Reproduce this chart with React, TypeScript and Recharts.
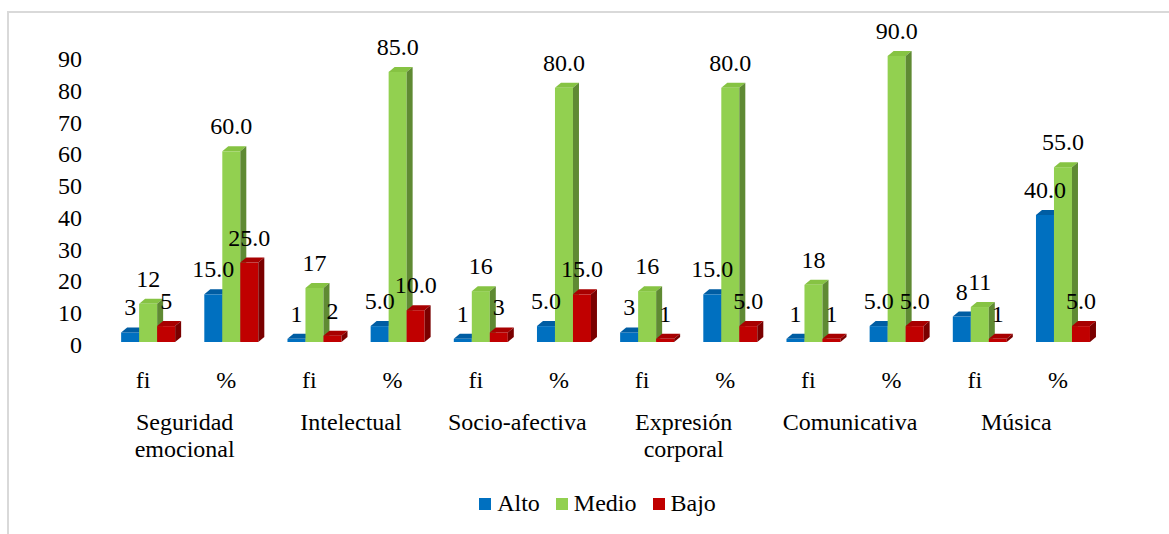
import React from 'react';
import { BarChart, Bar, XAxis, YAxis, Legend } from 'recharts';

const kinds = ['fi', '%', 'fi', '%', 'fi', '%', 'fi', '%', 'fi', '%', 'fi', '%'];
const groups = ['Seguridad emocional', 'Intelectual', 'Socio-afectiva', 'Expresión corporal', 'Comunicativa', 'Música'];
const alto = [3, 15, 1, 5, 1, 5, 3, 15, 1, 5, 8, 40];
const medio = [12, 60, 17, 85, 16, 80, 16, 80, 18, 90, 11, 55];
const bajo = [5, 25, 2, 10, 3, 15, 1, 5, 1, 5, 1, 5];
const yTicks = [0, 10, 20, 30, 40, 50, 60, 70, 80, 90];

const seriesInfo = [
  { key: 'alto', name: 'Alto', front: '#0070C0', top: '#005DA3', side: '#004F8C' },
  { key: 'medio', name: 'Medio', front: '#92D050', top: '#86C343', side: '#5F8A33' },
  { key: 'bajo', name: 'Bajo', front: '#C00000', top: '#A80000', side: '#7A0000' },
];

const data = kinds.map((k, i) => ({
  id: String(i),
  kind: k,
  group: groups[Math.floor(i / 2)],
  alto: alto[i],
  medio: medio[i],
  bajo: bajo[i],
}));

const FONT = "'Liberation Serif', Tinos, 'Times New Roman', 'DejaVu Serif', 'Noto Serif', serif";
const FS = 24;
const DX = 6;
const DY = 5;
const LABEL_SHIFT = -5.5;

const make3D = (front: string, top: string, side: string) => (props: any) => {
  const { x, y, width, height } = props;
  if (x == null || y == null || !width) return <g />;
  const w = width;
  const h = Math.max(height, 0);
  return (
    <g>
      <rect x={x} y={y} width={w} height={h} fill={front} />
      <polygon
        points={`${x},${y} ${x + DX},${y - DY} ${x + w + DX},${y - DY} ${x + w},${y}`}
        fill={top}
      />
      <polygon
        points={`${x + w},${y} ${x + w + DX},${y - DY} ${x + w + DX},${y + h - DY} ${x + w},${y + h}`}
        fill={side}
      />
    </g>
  );
};

const makeLabel = (key: string) => (props: any) => {
  const { x, y, width, payload } = props;
  if (x == null || y == null || !payload) return <g />;
  const v = payload[key];
  const txt = payload.kind === '%' ? Number(v).toFixed(1) : String(v);
  return (
    <text
      x={x + width / 2}
      y={y - 17}
      textAnchor="middle"
      style={{ fontFamily: FONT, fontSize: FS }}
      fill="#000"
    >
      {txt}
    </text>
  );
};

const YTick = (props: any) => {
  const { x, y, payload } = props;
  return (
    <text x={x} y={y + 11} textAnchor="end" style={{ fontFamily: FONT, fontSize: FS }} fill="#000">
      {payload.value}
    </text>
  );
};

const XTick = (props: any) => {
  const { x, y, index, width, visibleTicksCount } = props;
  const band = width / (visibleTicksCount || 12);
  const d = data[index];
  if (!d) return <g />;
  const gx = x + band / 2 + LABEL_SHIFT;
  return (
    <g>
      <text x={x + LABEL_SHIFT} y={y + 46} textAnchor="middle" style={{ fontFamily: FONT, fontSize: FS }} fill="#000">
        {d.kind}
      </text>
      {index % 2 === 0 ? (
        <text x={gx} y={y + 88} textAnchor="middle" style={{ fontFamily: FONT, fontSize: FS }} fill="#000">
          {d.group.split(' ').map((w, i) => (
            <tspan key={i} x={gx} dy={i === 0 ? 0 : 27}>
              {w}
            </tspan>
          ))}
        </text>
      ) : null}
    </g>
  );
};

const LegendContent = () => (
  <div
    style={{
      display: 'flex',
      justifyContent: 'center',
      alignItems: 'center',
      fontFamily: FONT,
      fontSize: FS,
      color: '#000',
      paddingLeft: 26,
    }}
  >
    {seriesInfo.map((s) => (
      <div key={s.key} style={{ display: 'flex', alignItems: 'center', margin: '0 8px' }}>
        <span style={{ display: 'inline-block', width: 12, height: 12, background: s.front, marginRight: 6 }} />
        <span>{s.name}</span>
      </div>
    ))}
  </div>
);

export default function App() {
  return (
    <div style={{ position: 'absolute', left: 0, top: 0, width: 1169, height: 534, overflow: 'hidden', background: '#fff' }}>
      <div
        style={{
          position: 'absolute',
          left: 7,
          top: 11,
          width: 1200,
          height: 600,
          border: '2px solid #d9d9d9',
          boxSizing: 'border-box',
        }}
      />
      <div style={{ position: 'absolute', left: 0, top: 0 }}>
        <BarChart
          width={1169}
          height={534}
          data={data}
          margin={{ top: 56, right: 64, bottom: 0, left: 0 }}
          barGap={0}
          barCategoryGap="17%"
        >
          <YAxis
            width={107}
            domain={[0, 90]}
            ticks={yTicks}
            axisLine={false}
            tickLine={false}
            tickSize={0}
            tickMargin={25}
            tick={<YTick />}
            interval={0}
          />
          <XAxis
            dataKey="id"
            height={192}
            axisLine={false}
            tickLine={false}
            tickSize={0}
            tickMargin={0}
            tick={<XTick />}
            interval={0}
          />
          <XAxis xAxisId="lbl" dataKey="id" hide />
          {seriesInfo.map((s) => (
            <Bar
              key={s.key}
              dataKey={s.key}
              name={s.name}
              fill={s.front}
              shape={make3D(s.front, s.top, s.side)}
              isAnimationActive={false}
            />
          ))}
          {seriesInfo.map((s) => (
            <Bar
              key={'l' + s.key}
              xAxisId="lbl"
              dataKey={s.key}
              legendType="none"
              fill="transparent"
              shape={makeLabel(s.key)}
              isAnimationActive={false}
            />
          ))}
          <Legend
            layout="horizontal"
            align="center"
            verticalAlign="middle"
            wrapperStyle={{ top: 490, left: 0, width: 1169 }}
            content={<LegendContent />}
          />
        </BarChart>
      </div>
    </div>
  );
}
